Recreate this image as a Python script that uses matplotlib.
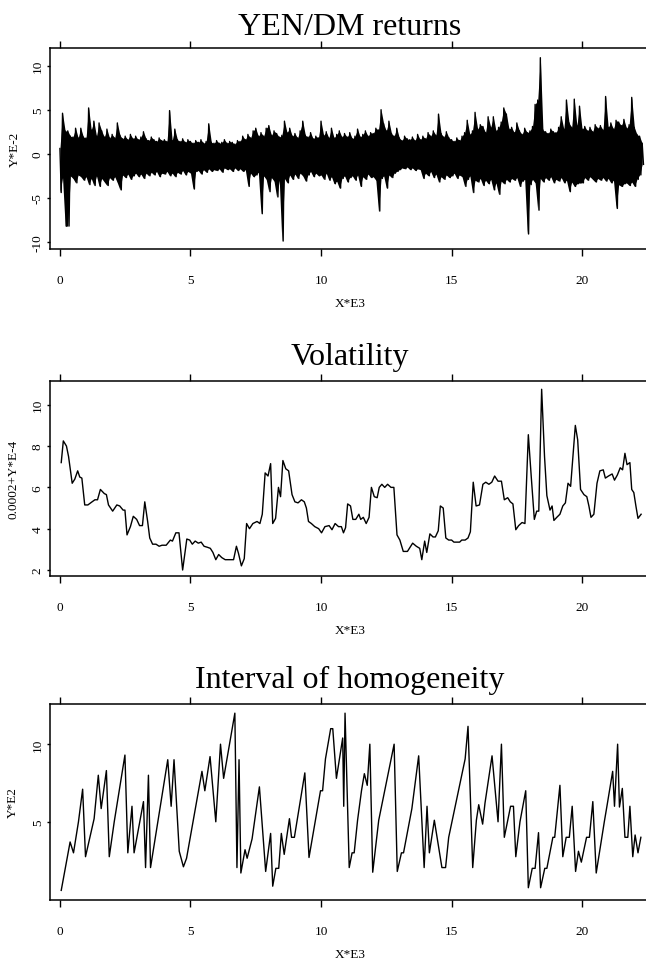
import numpy as np
import matplotlib
matplotlib.use('Agg')
import matplotlib.pyplot as plt

plt.rcParams['font.family'] = ['Liberation Serif', 'DejaVu Serif']
plt.rcParams['axes.unicode_minus'] = False
plt.rcParams['path.simplify'] = False

##### YEN/DM RETURNS (upper / lower envelope per 0.1 step, units E-2) #####
ret_hi = [0.6, 4.6, 2.6, 2.6, 2.0, 1.9, 2.9, 1.8, 2.9, 1.9,
          1.8, 5.2, 2.7, 3.7, 2.0, 3.5, 2.6, 1.9, 2.8, 1.8,
          2.2, 1.8, 3.5, 2.1, 1.7, 2.0, 1.6, 2.2, 1.7, 2.0,
          1.6, 1.9, 2.5, 1.7, 1.5, 1.9, 1.6, 1.4, 1.8, 1.5,
          1.6, 1.4, 4.9, 1.5, 2.8, 1.6, 1.4, 1.7, 1.3, 1.6,
          1.4, 1.2, 1.5, 1.3, 1.6, 1.2, 1.4, 3.4, 1.3, 1.2,
          1.5, 1.2, 1.3, 1.6, 1.2, 1.4, 1.3, 1.1, 1.5, 1.4,
          2.0, 1.6, 2.2, 1.8, 2.6, 2.9, 2.0, 2.4, 2.0, 2.9,
          3.2, 2.1, 2.6, 2.3, 1.9, 2.1, 3.7, 2.4, 2.9, 2.0,
          2.3, 1.8, 2.6, 3.7, 2.1, 1.9, 2.4, 1.7, 2.0, 1.8,
          3.7, 2.1, 2.5, 1.8, 2.9, 1.8, 2.2, 2.6, 1.9, 2.3,
          1.9, 2.4, 1.7, 2.0, 2.8, 1.9, 2.2, 2.6, 2.0, 2.4,
          2.3, 2.9, 2.7, 5.0, 3.4, 2.6, 3.7, 2.3, 2.0, 2.9,
          1.8, 1.5, 2.0, 1.7, 1.6, 1.9, 1.5, 2.2, 1.6, 2.0,
          1.7, 2.4, 2.0, 2.6, 2.1, 4.5, 2.3, 1.9, 2.5, 1.8,
          1.6, 1.4, 1.8, 1.5, 2.0, 2.4, 3.8, 2.2, 2.6, 4.7,
          2.8, 3.3, 3.1, 2.4, 4.2, 3.0, 4.2, 2.6, 3.0, 3.6,
          5.2, 4.5, 2.8, 3.0, 2.4, 3.5, 2.6, 2.2, 2.9, 2.4,
          2.6, 3.1, 5.6, 6.1, 10.9, 2.7, 2.5, 2.3, 2.8, 2.5,
          2.4, 3.0, 4.2, 2.8, 6.1, 3.5, 3.0, 6.2, 3.2, 5.4,
          2.8, 3.1, 2.6, 3.0, 2.5, 3.3, 2.9, 3.2, 2.7, 6.5,
          3.0, 3.5, 2.8, 3.8, 3.6, 3.2, 3.9, 2.9, 3.3, 6.4,
          3.0, 2.2, 2.0, 1.2]
ret_lo = [-4.4, -2.7, -8.2, -8.2, -2.5, -2.8, -3.3, -2.4, -2.6, -3.0,
          -2.6, -3.5, -2.8, -3.6, -2.5, -3.7, -2.8, -3.2, -3.6, -2.7,
          -3.0, -2.6, -3.3, -4.1, -2.4, -2.7, -2.3, -2.9, -2.5, -2.2,
          -2.6, -2.3, -2.8, -2.2, -2.5, -2.1, -2.4, -2.0, -2.6, -2.2,
          -2.3, -2.0, -2.5, -2.2, -2.6, -2.1, -2.3, -1.9, -2.4, -2.0,
          -2.2, -4.0, -2.0, -1.9, -2.3, -1.8, -2.1, -1.7, -2.0, -1.8,
          -1.9, -1.7, -2.1, -1.6, -1.8, -1.7, -2.0, -1.6, -1.9, -1.7,
          -2.0, -1.8, -3.7, -2.2, -2.6, -2.4, -2.1, -6.8, -2.5, -2.9,
          -4.3, -2.7, -3.1, -4.9, -3.0, -9.9, -2.8, -3.3, -2.4, -2.9,
          -2.3, -2.8, -2.2, -2.5, -3.1, -2.4, -2.0, -2.6, -2.2, -2.5,
          -2.4, -2.9, -2.2, -3.0, -2.6, -3.4, -3.1, -3.9, -2.8, -2.5,
          -3.2, -2.7, -2.5, -3.0, -2.4, -3.7, -2.6, -2.9, -2.3, -2.7,
          -2.6, -3.0, -6.5, -2.8, -2.5, -3.9, -2.4, -2.7, -2.2, -2.0,
          -1.8, -1.6, -1.7, -1.5, -1.8, -1.6, -1.9, -1.7, -1.8, -2.8,
          -2.2, -2.5, -2.0, -2.7, -2.3, -3.2, -2.6, -2.9, -2.4, -2.7,
          -2.5, -2.2, -2.8, -2.4, -2.6, -3.7, -2.9, -2.5, -4.4, -3.0,
          -3.2, -2.8, -3.6, -3.0, -3.4, -2.9, -4.1, -3.3, -4.6, -3.1,
          -3.4, -2.9, -3.2, -2.8, -3.0, -2.7, -3.7, -3.1, -2.9, -9.1,
          -3.5, -2.9, -3.3, -6.4, -2.8, -3.2, -2.7, -3.0, -2.6, -3.3,
          -2.9, -3.1, -2.7, -3.3, -3.0, -4.3, -3.2, -3.7, -3.4, -3.3,
          -3.3, -2.7, -3.0, -2.6, -2.9, -3.2, -2.8, -3.0, -2.7, -3.1,
          -2.8, -3.3, -3.0, -6.2, -3.5, -3.7, -3.4, -3.3, -3.6, -3.2,
          -3.7, -2.9, -2.4, -1.2]
ret_x = np.arange(len(ret_hi)) * 0.1

##### VOLATILITY (0.0002 + Y*E-4) #####
vol_x = [0.05, 0.13, 0.25, 0.33, 0.47, 0.57, 0.68, 0.76, 0.84, 0.95, 1.07, 1.23, 1.34, 1.44,
         1.55, 1.70, 1.78, 1.86, 2.02, 2.18, 2.29, 2.42, 2.49, 2.57, 2.70, 2.81, 2.94, 3.05,
         3.16, 3.25, 3.36, 3.44, 3.55, 3.68, 3.80, 3.91, 4.07, 4.23, 4.31, 4.44, 4.56, 4.70,
         4.86, 4.97, 5.07, 5.18, 5.30, 5.41, 5.52, 5.65, 5.76, 5.86, 5.97, 6.08, 6.20, 6.33,
         6.49, 6.65, 6.76, 6.84, 6.95, 7.06, 7.15, 7.26, 7.39, 7.55, 7.66, 7.75, 7.86, 7.97,
         8.07, 8.15, 8.26, 8.37, 8.45, 8.54, 8.65, 8.76, 8.89, 9.00, 9.12, 9.25, 9.36, 9.44,
         9.52, 9.63, 9.76, 9.91, 10.02, 10.15, 10.31, 10.42, 10.54, 10.67, 10.78, 10.86, 10.94,
         11.02, 11.13, 11.22, 11.33, 11.45, 11.52, 11.62, 11.73, 11.84, 11.93, 12.04, 12.15,
         12.23, 12.33, 12.44, 12.55, 12.68, 12.79, 12.91, 13.02, 13.15, 13.31, 13.51, 13.65,
         13.78, 13.86, 13.97, 14.05, 14.17, 14.29, 14.38, 14.49, 14.57, 14.68, 14.78, 14.89,
         15.00, 15.09, 15.20, 15.31, 15.39, 15.52, 15.63, 15.72, 15.83, 15.94, 16.07, 16.20,
         16.31, 16.43, 16.54, 16.65, 16.78, 16.91, 17.02, 17.15, 17.25, 17.35, 17.46, 17.57,
         17.70, 17.81, 17.94, 18.05, 18.17, 18.26, 18.34, 18.45, 18.56, 18.65, 18.77, 18.85,
         18.92, 19.03, 19.15, 19.26, 19.36, 19.46, 19.56, 19.74, 19.83, 19.94, 20.07, 20.18,
         20.26, 20.34, 20.45, 20.57, 20.68, 20.81, 20.89, 21.01, 21.15, 21.24, 21.35, 21.46,
         21.55, 21.64, 21.72, 21.83, 21.90, 21.98, 22.06, 22.14, 22.26]
vol_y = [7.2, 8.25, 8.0, 7.5, 6.2, 6.4, 6.8, 6.5, 6.45, 5.15, 5.15, 5.3, 5.4, 5.4,
         5.9, 5.7, 5.65, 5.15, 4.85, 5.15, 5.1, 4.9, 4.9, 3.7, 4.1, 4.6, 4.45, 4.15,
         4.15, 5.3, 4.35, 3.55, 3.25, 3.25, 3.15, 3.2, 3.2, 3.45, 3.4, 3.8, 3.8, 2.0,
         3.5, 3.45, 3.25, 3.4, 3.3, 3.35, 3.15, 3.1, 3.05, 2.85, 2.5, 2.75, 2.6, 2.5,
         2.5, 2.5, 3.15, 2.8, 2.2, 2.55, 4.25, 4.0, 4.25, 4.35, 4.25, 4.7, 6.7, 6.55,
         7.15, 4.25, 4.5, 6.0, 5.55, 7.3, 6.9, 6.8, 5.65, 5.3, 5.25, 5.4, 5.3, 5.0,
         4.35, 4.25, 4.1, 4.0, 3.8, 4.1, 4.15, 3.95, 4.25, 4.1, 4.1, 3.8, 4.05,
         5.2, 5.1, 4.45, 4.45, 4.7, 4.45, 4.55, 4.25, 4.55, 6.0, 5.55, 5.5,
         6.0, 6.15, 6.0, 6.15, 6.0, 6.0, 3.7, 3.45, 2.9, 2.9, 3.3, 3.15,
         3.05, 2.5, 3.4, 2.85, 3.75, 3.6, 3.6, 3.9, 5.1, 5.0, 3.55, 3.45,
         3.45, 3.35, 3.35, 3.35, 3.45, 3.45, 3.55, 3.85, 6.25, 5.1, 5.15, 6.15,
         6.25, 6.15, 6.25, 6.55, 6.3, 6.3, 5.4, 5.5, 5.3, 5.2, 3.95, 4.15,
         4.3, 4.25, 8.55, 6.55, 4.45, 4.85, 4.85, 10.75, 7.5, 5.6, 4.9, 5.1,
         4.4, 4.55, 4.7, 5.1, 5.25, 6.2, 6.05, 9.0, 8.3, 5.9, 5.65, 5.55,
         5.1, 4.55, 4.7, 6.2, 6.8, 6.85, 6.45, 6.55, 6.65, 6.35, 6.6, 6.95,
         6.85, 7.65, 7.1, 7.2, 5.9, 5.75, 5.1, 4.5, 4.7]

##### INTERVAL OF HOMOGENEITY (Y*E2) #####
hom_x = [0.05, 0.39, 0.52, 0.71, 0.87, 0.98, 1.31, 1.47, 1.58, 1.78, 1.89, 2.08, 2.49, 2.60,
         2.76, 2.84, 3.20, 3.28, 3.39, 3.47, 4.13, 4.26, 4.37, 4.57, 4.73, 4.85, 5.44, 5.55,
         5.75, 5.97, 6.15, 6.27, 6.70, 6.78, 6.86, 6.93, 7.09, 7.17, 7.36, 7.64, 7.88, 8.07,
         8.15, 8.27, 8.38, 8.48, 8.59, 8.79, 8.87, 8.98, 9.38, 9.54, 9.98, 10.06, 10.17, 10.37,
         10.45, 10.59, 10.83, 10.87, 10.92, 11.08, 11.19, 11.27, 11.40, 11.55, 11.66, 11.77,
         11.87, 11.98, 12.21, 12.80, 12.92, 13.08, 13.16, 13.48, 13.74, 13.95, 14.06, 14.15,
         14.34, 14.63, 14.77, 14.89, 15.52, 15.63, 15.81, 15.95, 16.04, 16.19, 16.28, 16.55,
         16.78, 16.91, 17.02, 17.26, 17.37, 17.46, 17.62, 17.84, 17.94, 18.09, 18.20, 18.33,
         18.41, 18.57, 18.65, 18.88, 18.95, 19.15, 19.26, 19.39, 19.51, 19.62, 19.75, 19.86,
         19.97, 20.17, 20.28, 20.41, 20.54, 20.85, 20.96, 21.17, 21.24, 21.36, 21.43, 21.54,
         21.64, 21.75, 21.83, 21.94, 22.03, 22.14, 22.25]
hom_y = [0.58, 3.7, 3.0, 5.0, 7.1, 2.75, 5.2, 8.0, 5.85, 8.3, 2.75, 5.0, 9.3, 3.0,
         6.0, 3.0, 6.3, 2.05, 8.0, 2.05, 9.0, 6.0, 9.0, 3.1, 2.1, 2.65, 8.25, 7.0,
         9.2, 5.0, 10.0, 7.8, 12.0, 2.05, 9.0, 1.7, 3.2, 2.65, 3.9, 7.25, 1.8, 4.25,
         0.85, 2.0, 2.0, 4.25, 2.9, 5.2, 4.0, 4.0, 8.15, 2.7, 7.0, 7.0, 9.05, 11.0,
         11.0, 7.8, 10.4, 6.0, 12.0, 2.05, 3.0, 3.0, 5.1, 7.0, 8.1, 7.35,
         10.0, 1.75, 5.1, 10.0, 1.8, 3.0, 3.0, 5.85, 9.25, 2.05, 6.0, 3.0,
         5.1, 2.05, 2.05, 4.0, 9.05, 11.15, 2.05, 5.1, 6.1, 4.85, 6.2, 9.25,
         5.0, 10.0, 4.0, 6.0, 6.0, 2.75, 5.0, 7.0, 0.75, 2.0, 2.0, 4.3,
         0.75, 2.0, 2.0, 4.0, 4.0, 7.35, 2.75, 4.0, 4.0, 6.0, 1.8, 3.1,
         2.4, 4.0, 4.0, 6.3, 1.7, 5.0, 6.1, 8.25, 6.0, 10.0, 5.95, 7.15,
         4.0, 4.0, 6.0, 2.75, 4.15, 3.0, 4.0]

W, H = 646, 962
fig = plt.figure(figsize=(W / 100, H / 100), dpi=100)


def make_axes(top_px, bottom_px):
    # axes run a bit past the right edge of the figure (right spine is cut off)
    ax = fig.add_axes([50 / W, 1 - bottom_px / H, 600 / W, (bottom_px - top_px) / H])
    ax.set_xlim(-0.38, 22.6)
    ax.set_xticks([0, 5, 10, 15, 20])
    ax.tick_params(axis='x', direction='out', length=5, width=1.0, top=True,
                   labeltop=False, labelsize=9.5, pad=13)
    ax.tick_params(axis='y', direction='out', length=2.5, width=1.0,
                   labelsize=9.5, pad=2, labelrotation=90)
    for s in ax.spines.values():
        s.set_linewidth(1.1)
    ax.set_xlabel('X*E3', fontsize=9.5, labelpad=8)
    return ax


ax1 = make_axes(49, 250)
# dense band between the envelopes, plus a zigzag for the ragged edge
ax1.fill_between(ret_x, ret_lo, ret_hi, color='black', lw=0)
xs = np.column_stack([ret_x, ret_x + 0.05]).ravel()
ys = np.column_stack([ret_hi, ret_lo]).ravel()
ax1.plot(xs, ys, color='black', lw=1.0)
ax1.set_ylim(-10.8, 12.0)
ax1.set_yticks([-10, -5, 0, 5, 10])
ax1.set_ylabel('Y*E-2', fontsize=9.5, labelpad=8)
ax1.set_title('YEN/DM returns', fontsize=23, pad=10)

ax2 = make_axes(382, 577)
ax2.plot(vol_x, vol_y, color='black', lw=1.0)
ax2.set_ylim(1.71, 11.15)
ax2.set_yticks([2, 4, 6, 8, 10])
ax2.set_ylabel('0.0002+Y*E-4', fontsize=9.5, labelpad=9)
ax2.set_title('Volatility', fontsize=23, pad=12)

ax3 = make_axes(705, 901)
ax3.plot(hom_x, hom_y, color='black', lw=1.0)
ax3.set_ylim(-0.04, 12.59)
ax3.set_yticks([5, 10])
ax3.set_ylabel('Y*E2', fontsize=9.5, labelpad=9)
ax3.set_title('Interval of homogeneity', fontsize=23, pad=12)

for ax in (ax1, ax2, ax3):
    for lab in ax.get_yticklabels():
        lab.set_va('center')

fig.savefig('out.png', dpi=100)
